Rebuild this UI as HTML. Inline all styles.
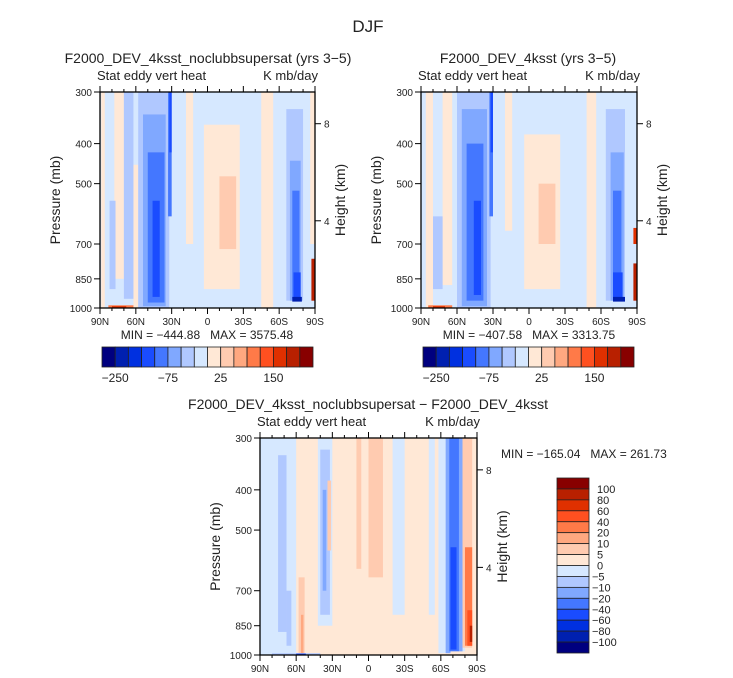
<!DOCTYPE html>
<html><head><meta charset="utf-8"><style>
body{margin:0;background:#fff}
svg{display:block;font-family:"Liberation Sans",sans-serif}
text{white-space:pre}
</style></head><body>
<svg id="c" width="733" height="678" viewBox="0 0 733 678" xmlns="http://www.w3.org/2000/svg">
<text x="368" y="32" font-size="17" text-anchor="middle" fill="#222">DJF</text>
</svg>
<script>
// colour levels (16)
const palette=["#00007f","#0020b0","#0030e0","#1a4cff","#4477ff","#80a8ff","#b0c8ff","#d6e8ff","#ffe8d6","#ffcbb0","#ffa880","#ff7a48","#ff5020","#e03000","#b82000","#880000"];
const latTicks=["90N","60N","30N","0","30S","60S","90S"];
const latTickVals=[90,60,30,0,-30,-60,-90];
const pTicks=[300,400,500,700,850,1000];
const zTicks=[8,4];
const zTickP=[358,615];
const cbLabelsTop=["-250","-75","25","150"];
const cbLabelIdx=[1,5,9,13];
const cbLabelsDiff=["100","80","60","40","20","10","5","0","-5","-10","-20","-40","-60","-80","-100"];
// patches: [latN, latS, pTop, pBot, level]
const field1=[
 [90,-90,300,1000,7],
 [89,86,300,1000,8],[78,70,300,850,8],[62,58,450,1000,8],
 [70,62,300,950,6],[82,77,550,900,6],
 [58,32,300,1000,6],[54,35,340,990,5],[50,36,420,970,4],[46,40,550,940,3],[33,30,300,600,4],[32,30,300,420,3],
 [18,12,300,700,8],[3,-27,360,900,8],[-10,-24,480,720,9],
 [-45,-55,300,1000,8],
 [-66,-80,330,960,6],[-69,-78,440,960,5],[-71,-77,520,950,4],[-72,-78,820,950,3],[-71,-79,940,965,1],
 [-86,-90,300,700,8],[-87,-90,760,960,14],
 [83,62,985,1000,11],[80,68,990,1000,13]
];
const field2=[
 [90,-90,300,1000,7],
 [86,80,300,1000,8],[72,64,300,880,8],
 [80,72,600,900,6],
 [60,32,300,1000,6],[56,35,330,990,5],[52,38,400,960,4],[46,40,550,930,3],[33,30,300,600,4],[32,30,300,420,3],
 [20,14,300,650,8],[4,-26,380,900,8],[-8,-22,500,700,9],
 [-48,-56,300,1000,8],
 [-64,-80,330,960,6],[-68,-79,420,960,5],[-70,-77,520,950,4],[-70,-78,820,950,3],[-70,-80,940,965,1],
 [-87,-90,640,700,13],[-87,-90,780,960,14],
 [84,64,985,1000,11],[80,70,990,1000,13]
];
const field3=[
 [90,-90,300,1000,8],
 [90,60,300,1000,7],[75,68,330,880,6],[68,64,700,950,6],[58,53,650,1000,9],[56,54,800,990,10],
 [42,30,300,850,7],[40,32,320,800,6],[38,35,400,700,5],[34,31,380,560,9],
 [10,6,300,620,9],[0,-12,300,650,9],[-20,-30,300,800,7],[-50,-55,300,800,7],
 [-58,-80,300,990,7],[-64,-78,300,990,5],[-67,-75,300,980,4],[-68,-73,550,970,3],
 [-78,-86,300,960,9],[-80,-86,550,950,11],[-82,-86,780,950,12],[-84,-86,850,930,14],
 [-68,-90,980,1000,8],[80,40,990,1000,6],[60,52,992,1000,3]
];
const svg=document.getElementById('c');
const NS="http://www.w3.org/2000/svg";
function mk(tag,attrs,parent){const e=document.createElementNS(NS,tag);for(const k in attrs)e.setAttribute(k,attrs[k]);(parent||svg).appendChild(e);return e;}
function txt(s,attrs,parent){const e=mk('text',attrs,parent);e.textContent=s;return e;}
function panel(name,x0,x1,y0,y1,field,title,titleX,titleY){
 const g=mk('g',{});
 
 
 const X=lat=>x0+(90-lat)/180*(x1-x0);
 const Y=p=>y0+Math.log(p/300)/Math.log(1000/300)*(y1-y0);
 field.forEach((f,i)=>{
  const r=mk('rect',{x:X(f[0]),y:Y(f[2]),width:X(f[1])-X(f[0]),height:Y(f[3])-Y(f[2]),fill:palette[f[4]]},g);
  
  
 });
 const fr=mk('rect',{x:x0,y:y0,width:x1-x0,height:y1-y0,fill:'none',stroke:'#000','stroke-width':1.3},g);
 
 
 const t=txt(title,{x:titleX,y:titleY,'font-size':14,'text-anchor':'middle',fill:'#222'},g);
 
 
 const s1=txt('Stat eddy vert heat',{x:x0-3,y:y0-12,'font-size':13,fill:'#222'},g);
 
 
 const s2=txt('K mb/day',{x:x1+3,y:y0-12,'font-size':13,'text-anchor':'end',fill:'#222'},g);
 
 
 for(let lat=90;lat>=-90;lat-=10){
  const major=lat%30===0;
  mk('line',{x1:X(lat),x2:X(lat),y1:y1,y2:y1+(major?6:3),stroke:'#000'},g);
  mk('line',{x1:X(lat),x2:X(lat),y1:y0,y2:y0-(major?6:3),stroke:'#000'},g);
 }
 latTicks.forEach((l,i)=>{const e=txt(l,{x:X(latTickVals[i]),y:y1+17,'font-size':10,'text-anchor':'middle',fill:'#222'},g);
  
  });
 pTicks.forEach(p=>{mk('line',{x1:x0,x2:x0-6,y1:Y(p),y2:Y(p),stroke:'#000'},g);
  const e=txt(String(p),{x:x0-8,y:Y(p)+4,'font-size':10,'text-anchor':'end',fill:'#222'},g);
  
  });
 zTicks.forEach((z,i)=>{const p=zTickP[i];
  mk('line',{x1:x1,x2:x1+6,y1:Y(p),y2:Y(p),stroke:'#000'},g);
  const e=txt(String(z),{x:x1+9,y:Y(p)+4,'font-size':10,fill:'#222'},g);
  
  });
 const yl=txt('Pressure (mb)',{x:0,y:0,'font-size':14,'text-anchor':'middle',fill:'#222',transform:`translate(${x0-40},${(y0+y1)/2}) rotate(-90)`},g);
 
 
 const zl=txt('Height (km)',{x:0,y:0,'font-size':14,'text-anchor':'middle',fill:'#222',transform:`translate(${x1+30},${(y0+y1)/2}) rotate(-90)`},g);
 
 
}
function hbar(name,x0,x1,y0,y1){
 const g=mk('g',{});
 
 
 const w=(x1-x0)/palette.length;
 palette.forEach((c,i)=>{const r=mk('rect',{x:x0+i*w,y:y0,width:w,height:y1-y0,fill:c,stroke:'#222','stroke-width':0.8},g);
  
  });
 cbLabelsTop.forEach((l,i)=>{const e=txt(l.replace('-','\u2212'),{x:x0+cbLabelIdx[i]*w,y:y1+15,'font-size':12,'text-anchor':'middle',fill:'#222'},g);
  
  });
}
panel('panel-noclubbsupersat',100,315,92,308,field1,'F2000_DEV_4ksst_noclubbsupersat (yrs 3\u22125)',208,63);
panel('panel-4ksst',421,637,92,308,field2,'F2000_DEV_4ksst (yrs 3\u22125)',528,63);
panel('panel-difference',260,477,438,655,field3,'F2000_DEV_4ksst_noclubbsupersat \u2212 F2000_DEV_4ksst',368,409);
const m1=txt('MIN = \u2212444.88   MAX = 3575.48',{x:207,y:339,'font-size':12,'text-anchor':'middle',fill:'#222'});


const m2=txt('MIN = \u2212407.58   MAX = 3313.75',{x:529,y:339,'font-size':12,'text-anchor':'middle',fill:'#222'});


const m3=txt('MIN = \u2212165.04   MAX = 261.73',{x:501,y:458,'font-size':12,fill:'#222'});


hbar('colorbar-panel1',102,313,347,367);
hbar('colorbar-panel2',423,634,347,367);
// vertical colorbar
const vg=mk('g',{});


const vx0=557,vx1=589,vy0=478,vy1=653,vh=(vy1-vy0)/palette.length;
palette.slice().reverse().forEach((c,i)=>{const r=mk('rect',{x:vx0,y:vy0+i*vh,width:vx1-vx0,height:vh,fill:c,stroke:'#222','stroke-width':0.8},vg);
 
 });
cbLabelsDiff.forEach((l,i)=>{const e=txt(l.replace('-','\u2212'),{x:l.startsWith('-')?592:597,y:vy0+(i+1)*vh+4,'font-size':11,fill:'#222'},vg);
 
 });
</script>
</body></html>
